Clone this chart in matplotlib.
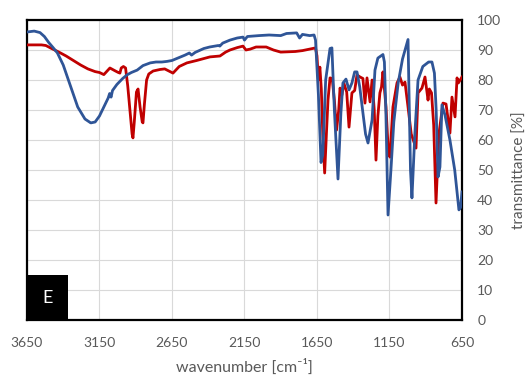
import matplotlib
matplotlib.use("Agg")
import matplotlib.pyplot as plt
from matplotlib.patches import Rectangle

plt.rcParams['font.family'] = ['Lato', 'DejaVu Sans']

# blue spectrum (wavenumber, transmittance)
blue_wn = [3650, 3600, 3560, 3530, 3500, 3470, 3440, 3400, 3350, 3300, 3250, 3210,
           3180, 3150, 3120, 3090, 3080, 3070, 3060, 3030, 2990, 2960, 2930, 2890,
           2850, 2800, 2760, 2720, 2684, 2650, 2600, 2560, 2530, 2515, 2490, 2430,
           2390, 2330, 2320, 2300, 2250, 2200, 2160, 2150, 2130, 2050, 1980, 1900,
           1860, 1790, 1770, 1750, 1700, 1670, 1660, 1640, 1622, 1610, 1590, 1560,
           1547, 1530, 1505, 1485, 1471, 1450, 1429, 1409, 1390, 1374, 1355, 1333,
           1315, 1298, 1270, 1250, 1230, 1195, 1185, 1175, 1160, 1140, 1120, 1090,
           1060, 1022, 1015, 1005, 995, 975, 953, 920, 880, 857, 840, 828, 815, 802,
           788, 767, 733, 700, 671, 660, 650]
blue_t = [96.0, 96.3, 95.8, 94.5, 92.5, 90.8, 89.0, 85.0, 78.0, 71.0, 67.0, 65.7,
          66.0, 68.0, 71.0, 74.0, 75.5, 74.3, 76.5, 78.5, 80.5, 81.7, 82.5, 83.3,
          84.8, 85.7, 86.0, 86.0, 86.2, 86.5, 87.5, 88.3, 89.0, 88.3, 89.2, 90.5,
          91.0, 91.5, 91.3, 92.3, 93.3, 94.0, 94.3, 93.3, 94.5, 94.8, 95.0, 94.8,
          95.5, 95.7, 94.0, 95.2, 94.8, 95.0, 93.3, 75.0, 52.5, 55.0, 80.0, 90.5,
          90.7, 70.0, 47.0, 69.0, 79.0, 80.3, 76.7, 79.0, 82.7, 82.7, 77.7, 69.0,
          62.0, 59.0, 66.7, 83.3, 87.3, 88.5, 86.0, 70.0, 35.0, 50.0, 66.0, 79.0,
          87.0, 93.5, 75.0, 50.0, 40.7, 62.0, 80.0, 84.5, 86.0, 86.0, 82.3, 70.0,
          47.7, 51.0, 71.7, 68.3, 60.0, 50.0, 36.7, 37.5, 42.7]

# red spectrum (wavenumber, transmittance)
red_wn = [3650, 3600, 3550, 3520, 3480, 3430, 3380, 3330, 3280, 3230, 3180, 3150,
          3120, 3078, 3040, 3020, 3009, 3000, 2985, 2970, 2955, 2940, 2925, 2919,
          2910, 2895, 2884, 2870, 2855, 2850, 2840, 2825, 2810, 2780, 2733, 2700,
          2643, 2600, 2547, 2480, 2388, 2319, 2280, 2250, 2200, 2160, 2140, 2110,
          2070, 2000, 1950, 1900, 1800, 1750, 1700, 1660, 1650, 1640, 1630, 1620,
          1610, 1597, 1585, 1574, 1560, 1545, 1530, 1515, 1500, 1491, 1478, 1465,
          1445, 1429, 1409, 1390, 1374, 1353, 1333, 1319, 1305, 1284, 1270, 1255,
          1243, 1230, 1216, 1205, 1195, 1174, 1160, 1147, 1126, 1098, 1078, 1060,
          1043, 1022, 1000, 967, 953, 926, 905, 884, 875, 860, 845, 829, 809, 781,
          760, 733, 719, 698, 684, 675, 650]
red_t = [91.7, 91.7, 91.7, 91.5, 90.5, 89.3, 88.0, 86.5, 85.0, 83.7, 82.8, 82.5,
         81.8, 84.0, 83.0, 82.5, 82.3, 84.0, 84.5, 84.0, 78.0, 70.0, 62.0, 60.7,
         66.0, 76.0, 77.0, 71.0, 66.0, 65.7, 72.0, 80.0, 82.0, 83.0, 83.5, 83.7,
         82.3, 84.5, 85.7, 86.5, 87.7, 88.0, 89.3, 90.0, 90.8, 91.3, 90.0, 90.3,
         91.0, 91.0, 90.0, 89.3, 89.5, 89.8, 90.3, 90.7, 88.0, 80.0, 84.3, 77.0,
         62.0, 49.0, 62.0, 73.3, 80.7, 80.5, 73.3, 63.3, 70.0, 77.3, 75.0, 79.0,
         76.0, 64.3, 75.7, 76.5, 81.7, 81.0, 80.5, 72.3, 80.7, 72.7, 80.0, 70.0,
         53.3, 68.0, 75.7, 77.7, 82.7, 71.0, 58.0, 54.3, 71.0, 79.0, 81.0, 78.3,
         79.3, 71.0, 62.0, 57.3, 75.7, 77.3, 81.0, 73.3, 77.0, 75.7, 65.0, 39.0,
         62.0, 72.3, 72.0, 62.3, 74.3, 67.7, 80.7, 79.0, 81.0]

x_ticks = [3650, 3150, 2650, 2150, 1650, 1150, 650]
y_ticks = [0, 10, 20, 30, 40, 50, 60, 70, 80, 90, 100]

gray = '#595959'

fig = plt.figure(figsize=(5.31, 3.78), dpi=100)
ax = fig.add_axes([0.0508, 0.1534, 0.8192, 0.7937])

ax.plot(red_wn, red_t, color='#c00000', lw=2.0, zorder=3)
ax.plot(blue_wn, blue_t, color='#2f5597', lw=2.0, zorder=4)

ax.set_xlim(3650, 650)
ax.set_ylim(0, 100)
ax.set_xticks(x_ticks)
ax.set_yticks(y_ticks)
ax.yaxis.tick_right()
ax.yaxis.set_label_position('right')
ax.tick_params(axis='both', length=0, colors=gray, labelsize=10)
ax.tick_params(axis='x', pad=12)
ax.tick_params(axis='y', pad=11)
ax.grid(True, color='#d9d9d9', lw=0.8, zorder=0)
ax.set_axisbelow(True)
for s in ax.spines.values():
    s.set_color('black')
    s.set_linewidth(1.6)

ax.set_xlabel('wavenumber [cm⁻¹]', color=gray, fontsize=11.5, labelpad=7)
ax.set_ylabel('transmittance [%]', color=gray, fontsize=11, labelpad=8)

ax.add_patch(Rectangle((0, 0), 0.094, 0.15, transform=ax.transAxes,
                       facecolor='black', edgecolor='none', zorder=5))
ax.text(0.047, 0.075, 'E', transform=ax.transAxes, color='white', fontsize=13,
        ha='center', va='center', zorder=6)

fig.savefig('out.png', dpi=100)
